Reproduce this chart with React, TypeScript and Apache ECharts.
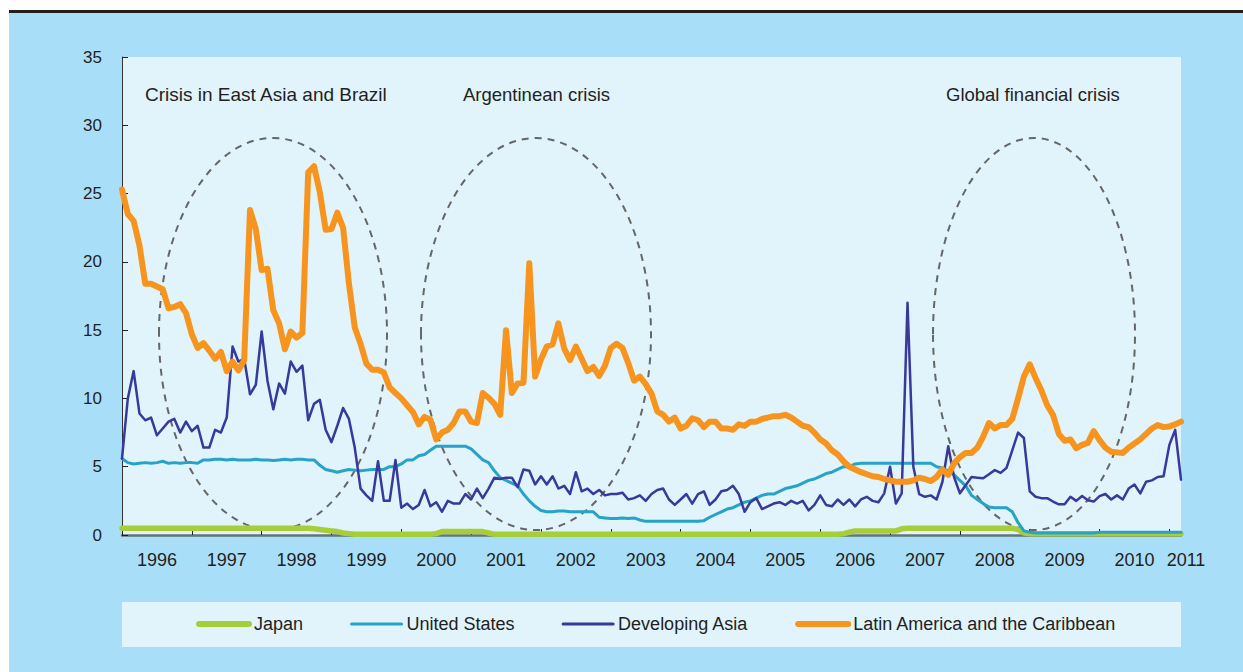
import React, { useEffect, useRef } from "react";
import * as echarts from "echarts";

// Monthly, Jan 1996 – Mar 2011 (183 points)
const startYear = 1996;
const pointCount = 183;

const japan = [
  0.5, 0.5, 0.5, 0.5, 0.5, 0.5, 0.5, 0.5, 0.5, 0.5, 0.5, 0.5,
  0.5, 0.5, 0.5, 0.5, 0.5, 0.5, 0.5, 0.5, 0.5, 0.5, 0.5, 0.5,
  0.5, 0.5, 0.5, 0.5, 0.5, 0.5, 0.5, 0.5, 0.5, 0.45, 0.4, 0.35,
  0.3, 0.25, 0.15, 0.1, 0.05, 0.05, 0.05, 0.05, 0.05, 0.05, 0.05, 0.05,
  0.05, 0.05, 0.05, 0.05, 0.05, 0.05, 0.1, 0.25, 0.25, 0.25, 0.25, 0.25,
  0.25, 0.25, 0.25, 0.15, 0.05, 0.05, 0.05, 0.05, 0.05, 0.05, 0.05, 0.05,
  0.05, 0.05, 0.05, 0.05, 0.05, 0.05, 0.05, 0.05, 0.05, 0.05, 0.05, 0.05,
  0.05, 0.05, 0.05, 0.05, 0.05, 0.05, 0.05, 0.05, 0.05, 0.05, 0.05, 0.05,
  0.05, 0.05, 0.05, 0.05, 0.05, 0.05, 0.05, 0.05, 0.05, 0.05, 0.05, 0.05,
  0.05, 0.05, 0.05, 0.05, 0.05, 0.05, 0.05, 0.05, 0.05, 0.05, 0.05, 0.05,
  0.05, 0.05, 0.05, 0.05, 0.1, 0.2, 0.3, 0.3, 0.3, 0.3, 0.3, 0.3,
  0.3, 0.3, 0.45, 0.5, 0.5, 0.5, 0.5, 0.5, 0.5, 0.5, 0.5, 0.5,
  0.5, 0.5, 0.5, 0.5, 0.5, 0.5, 0.5, 0.5, 0.5, 0.5, 0.4, 0.15,
  0.1, 0.1, 0.1, 0.1, 0.1, 0.1, 0.1, 0.1, 0.1, 0.1, 0.1, 0.1,
  0.1, 0.1, 0.1, 0.1, 0.1, 0.1, 0.1, 0.1, 0.1, 0.1, 0.1, 0.1,
  0.1, 0.1, 0.1,
];

const unitedStates = [
  5.6, 5.3, 5.2, 5.25, 5.3, 5.25, 5.3, 5.4, 5.25, 5.3, 5.25, 5.3,
  5.3, 5.25, 5.5, 5.5, 5.55, 5.55, 5.5, 5.55, 5.5, 5.5, 5.5, 5.55,
  5.5, 5.5, 5.45, 5.5, 5.55, 5.5, 5.55, 5.55, 5.5, 5.5, 5.1, 4.8,
  4.7, 4.6, 4.7, 4.8, 4.75, 4.7, 4.75, 4.8, 4.8, 4.8, 5.0, 5.0,
  5.2, 5.5, 5.5, 5.8, 5.9, 6.2, 6.5, 6.5, 6.5, 6.5, 6.5, 6.5,
  6.3, 5.9, 5.5, 5.3, 4.7, 4.2, 4.0, 3.8, 3.6, 3.0, 2.5, 2.1,
  1.8, 1.7, 1.7, 1.75, 1.75, 1.7, 1.7, 1.7, 1.7, 1.7, 1.3, 1.25,
  1.2, 1.2, 1.25, 1.2, 1.25, 1.1, 1.0, 1.0, 1.0, 1.0, 1.0, 1.0,
  1.0, 1.0, 1.0, 1.0, 1.05, 1.3, 1.5, 1.7, 1.9, 2.0, 2.2, 2.4,
  2.5, 2.7, 2.9, 3.0, 3.0, 3.2, 3.4, 3.5, 3.6, 3.8, 4.0, 4.1,
  4.3, 4.5, 4.6, 4.8, 5.0, 5.0, 5.2, 5.25, 5.25, 5.25, 5.25, 5.25,
  5.25, 5.25, 5.25, 5.25, 5.25, 5.25, 5.25, 5.25, 5.0, 4.9, 4.7, 4.4,
  4.0, 3.6, 2.9, 2.6, 2.3, 2.05, 2.0, 2.0, 2.0, 1.7, 0.9, 0.3,
  0.2, 0.15, 0.15, 0.15, 0.15, 0.15, 0.15, 0.15, 0.15, 0.15, 0.15, 0.15,
  0.2, 0.2, 0.2, 0.2, 0.2, 0.2, 0.2, 0.2, 0.2, 0.2, 0.2, 0.2,
  0.2, 0.2, 0.2,
];

const developingAsia = [
  5.6, 10.0, 12.0, 8.9, 8.4, 8.6, 7.3, 7.8, 8.3, 8.5, 7.5, 8.3,
  7.6, 8.0, 6.4, 6.4, 7.7, 7.5, 8.6, 13.8, 12.7, 12.9, 10.3, 11.0,
  14.9, 11.3, 9.2, 11.1, 10.35, 12.7, 11.95, 12.4, 8.4, 9.6, 9.9, 7.7,
  6.8, 8.0, 9.3, 8.5, 6.4, 3.4, 2.9, 2.5, 5.4, 2.5, 2.5, 5.5,
  2.0, 2.3, 1.9, 2.2, 3.3, 2.1, 2.4, 1.7, 2.5, 2.3, 2.3, 3.0,
  2.6, 3.4, 2.7, 3.4, 4.2, 4.1, 4.2, 4.2, 3.5, 4.8, 4.7, 3.7,
  4.3, 3.7, 4.3, 3.4, 3.6, 3.0, 4.6, 3.2, 3.4, 3.0, 3.3, 2.9,
  3.0, 3.0, 3.1, 2.6, 2.7, 2.9, 2.5, 3.0, 3.3, 3.4, 2.6, 2.2,
  2.6, 3.0, 2.3, 3.0, 3.2, 2.2, 2.6, 3.2, 3.3, 3.6, 3.0, 1.7,
  2.4, 2.7, 1.9, 2.1, 2.3, 2.4, 2.2, 2.5, 2.3, 2.5, 1.8, 2.2,
  2.9, 2.2, 2.1, 2.6, 2.2, 2.6, 2.1, 2.6, 2.8, 2.5, 2.4, 3.05,
  5.0, 2.3, 3.05, 17.0, 5.0, 3.0, 2.8, 2.9, 2.6, 3.9, 6.5, 4.25,
  3.05, 3.65, 4.25, 4.2, 4.15, 4.45, 4.75, 4.55, 4.9, 6.2, 7.5, 7.1,
  3.2, 2.8, 2.7, 2.7, 2.45, 2.25, 2.25, 2.8, 2.5, 2.85, 2.55, 2.45,
  2.85, 3.0, 2.6, 2.9, 2.6, 3.4, 3.7, 3.05, 3.9, 4.0, 4.25, 4.3,
  6.6, 7.7, 4.05,
];

const latinAmerica = [
  25.3, 23.5, 23.0, 21.2, 18.4, 18.4, 18.2, 18.0, 16.6, 16.7, 16.9, 16.25,
  14.7, 13.7, 14.05, 13.5, 12.9, 13.4, 12.0, 12.7, 12.05, 12.8, 23.8, 22.4,
  19.4, 19.5, 16.45, 15.5, 13.6, 14.9, 14.45, 14.8, 26.55, 27.0, 25.1, 22.35,
  22.4, 23.6, 22.5, 18.4, 15.2, 14.0, 12.55, 12.1, 12.1, 11.9, 10.8, 10.4,
  10.0, 9.5, 9.0, 8.1, 8.65, 8.45, 7.0, 7.5, 7.7, 8.2, 9.05, 9.05,
  8.3, 8.2, 10.4, 10.05, 9.6, 8.8, 15.0, 10.4, 11.1, 11.15, 19.9, 11.6,
  12.85, 13.8, 13.95, 15.5, 13.65, 12.8, 13.8, 12.9, 12.0, 12.3, 11.65, 12.4,
  13.7, 14.0, 13.7, 12.6, 11.3, 11.6, 11.05, 10.35, 9.05, 8.8, 8.3, 8.6,
  7.8, 8.0, 8.55, 8.4, 7.9, 8.3, 8.3, 7.8, 7.8, 7.7, 8.1, 8.0,
  8.3, 8.3, 8.5, 8.6, 8.7, 8.7, 8.8, 8.6, 8.3, 8.0, 7.9, 7.5,
  7.0, 6.7, 6.2, 5.9, 5.4, 5.0, 4.8, 4.6, 4.45, 4.3, 4.25, 4.1,
  4.0, 3.9, 3.9, 3.9, 4.0, 4.2, 4.1, 3.95, 4.25, 4.8, 4.4, 5.25,
  5.7, 6.0, 6.0, 6.4, 7.2, 8.2, 7.8, 8.05, 8.05, 8.5, 10.0, 11.6,
  12.5, 11.5, 10.6, 9.5, 8.8, 7.4, 6.9, 7.0, 6.35, 6.6, 6.75, 7.6,
  6.95, 6.4, 6.1, 6.05, 6.0, 6.4, 6.7, 7.0, 7.4, 7.8, 8.05, 7.9,
  7.95, 8.1, 8.3,
];

const seriesNames = ["Japan", "United States", "Developing Asia", "Latin America and the Caribbean"];
const seriesColors = ["#a6ce39", "#27a3c7", "#38399a", "#f7941d"];
const seriesWidths = [5.5, 3, 2.5, 6];
const legendWidths = [6, 3, 3, 6];

const annotations = [
  { text: "Crisis in East Asia and Brazil", x: 145, size: 19 },
  { text: "Argentinean crisis", x: 463, size: 18.5 },
  { text: "Global financial crisis", x: 946, size: 18.5 },
];

const crisisEllipses = [
  { cx: 273, cy: 334, rx: 114, ry: 196 },
  { cx: 536, cy: 334, rx: 115, ry: 196 },
  { cx: 1034, cy: 334, rx: 101, ry: 196 },
];

const yTicks = { min: 0, max: 35, interval: 5 };

const months: string[] = [];
for (let i = 0; i < pointCount; i++) {
  const y = startYear + Math.floor(i / 12);
  const m = (i % 12) + 1;
  months.push(`${y}-${m < 10 ? "0" + m : m}`);
}

const FONT = "'Liberation Sans', Arial, Helvetica, sans-serif";
const TEXT = "#231f20";

export default function App() {
  const ref = useRef<HTMLDivElement>(null);
  useEffect(() => {
    const chart = echarts.init(ref.current!, null, { renderer: "svg" });
    const dataSets = [japan, unitedStates, developingAsia, latinAmerica];
    chart.setOption({
      animation: false,
      backgroundColor: "#ffffff",
      textStyle: { fontFamily: FONT },
      grid: {
        left: 122,
        top: 57,
        right: 62,
        bottom: 137,
        show: true,
        backgroundColor: "#e1f3fb",
        borderWidth: 0,
        containLabel: false,
      },
      xAxis: {
        type: "category",
        data: months,
        boundaryGap: false,
        axisLine: { show: true, lineStyle: { color: "#66737a", width: 2.5 } },
        axisTick: {
          show: true,
          inside: true,
          length: 6,
          interval: (index: number) => index % 12 === 0,
          lineStyle: { color: "#231f20", width: 1 },
        },
        axisLabel: {
          show: true,
          interval: (index: number) => index % 12 === 6 || index === pointCount - 1,
          formatter: (value: string, index: number) =>
            index === pointCount - 1 ? "{e|" + value.slice(0, 4) + "}" : value.slice(0, 4),
          fontSize: 18,
          color: TEXT,
          fontFamily: FONT,
          margin: 16,
          rich: { e: { fontSize: 18, color: TEXT, fontFamily: FONT, padding: [0, 0, 0, 10] } },
        },
        splitLine: { show: false },
      },
      yAxis: {
        type: "value",
        min: yTicks.min,
        max: yTicks.max,
        interval: yTicks.interval,
        axisLine: { show: true, lineStyle: { color: "#333333", width: 1 } },
        axisTick: { show: true, inside: true, length: 6, lineStyle: { color: "#231f20" } },
        axisLabel: { fontSize: 17, color: TEXT, fontFamily: FONT, margin: 20 },
        splitLine: { show: false },
      },
      legend: {
        data: seriesNames.map((name, i) => ({
          name,
          itemStyle: { opacity: 0 },
          lineStyle: { width: legendWidths[i], color: seriesColors[i], cap: "round" },
        })),
        left: 196,
        top: 615,
        padding: 0,
        itemWidth: 50,
        itemHeight: 14,
        itemGap: 47,
        itemStyle: { opacity: 0 },
        textStyle: { fontSize: 18, color: TEXT, fontFamily: FONT },
      },
      series: seriesNames.map((name, i) => ({
        name,
        type: "line",
        data: dataSets[i],
        symbol: "none",
        showSymbol: false,
        smooth: false,
        z: 2 + i,
        lineStyle: { color: seriesColors[i], width: seriesWidths[i], cap: "round", join: "round" },
        itemStyle: { color: seriesColors[i] },
      })),
      graphic: [
        { type: "rect", z: -20, silent: true, shape: { x: 9, y: 13, width: 1234, height: 659 }, style: { fill: "#a9def8" } },
        { type: "rect", z: -19, silent: true, shape: { x: 9, y: 10, width: 1234, height: 3 }, style: { fill: "#231f20" } },
        { type: "rect", z: -19, silent: true, shape: { x: 122, y: 602, width: 1059, height: 45 }, style: { fill: "#e1f3fb" } },
        ...crisisEllipses.map((e) => ({
          type: "ellipse",
          z: 1,
          silent: true,
          shape: e,
          style: { fill: "none", stroke: "#666666", lineWidth: 2, lineDash: [7, 6] },
        })),
        ...annotations.map((a) => ({
          type: "text",
          z: 10,
          silent: true,
          x: a.x,
          y: 94,
          style: { text: a.text, fontSize: a.size, fontFamily: FONT, fill: TEXT, verticalAlign: "middle", align: "left" },
        })),
      ],
    });
    return () => chart.dispose();
  }, []);
  return <div ref={ref} style={{ position: "fixed", left: 0, top: 0, width: 1243, height: 672 }} />;
}
